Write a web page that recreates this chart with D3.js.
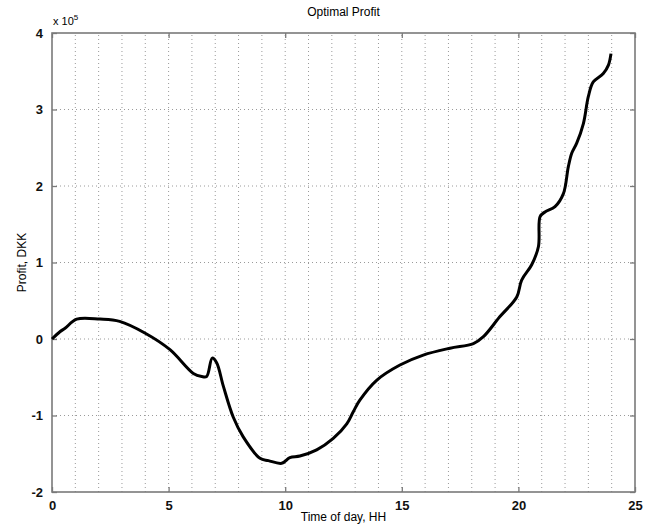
<!DOCTYPE html>
<html>
<head>
<meta charset="utf-8">
<script src="https://d3js.org/d3.v7.min.js"></script>
<style>
  body { margin: 0; background: #fff; }
  text { font-family: "Liberation Sans", Arial, sans-serif; }
</style>
</head>
<body>
<div id="grafico"></div>
<script>
// datos: hora del dia y beneficio en DKK
var horas = [0, 0.34, 0.56, 1.06, 2.06, 2.9, 4.0, 5.06, 6.06, 6.42, 6.63, 6.87, 7.06, 7.35, 7.77, 8.2, 8.92, 9.28, 9.85, 10.2, 10.63, 11.35, 12.06, 12.64, 12.92, 13.2, 13.92, 14.92, 15.92, 17.07, 18.07, 18.5, 19.2, 19.93, 20.14, 20.57, 20.86, 20.93, 21.14, 21.57, 21.93, 22.14, 22.29, 22.5, 22.79, 23.0, 23.21, 23.64, 23.86, 23.97];
var beneficio = [0, 9500, 14000, 26000, 26000, 23000, 7500, -14000, -45000, -49000, -49000, -25000, -31000, -62000, -102000, -128000, -156000, -159000, -162500, -155000, -153000, -145000, -130000, -111000, -95000, -80000, -54000, -34000, -21000, -12000, -6000, 3000, 29000, 55000, 77000, 97000, 121000, 160000, 166000, 173000, 190000, 225000, 243000, 256000, 282000, 317000, 336000, 347000, 358000, 373000];

var xTicks = [0, 5, 10, 15, 20, 25];
var yTicks = [-200000, -100000, 0, 100000, 200000, 300000, 400000];
var xGrid = d3.range(1, 25); // cada hora

var width = 650, height = 526;
var margin = { top: 33, right: 15, bottom: 34, left: 52 };

var svg = d3.select("#grafico").append("svg")
    .attr("width", width)
    .attr("height", height);

var x = d3.scaleLinear().domain([0, 25]).range([margin.left, width - margin.right]);
var y = d3.scaleLinear().domain([-200000, 400000]).range([height - margin.bottom, margin.top]);

// rejilla punteada
svg.append("g").selectAll("line")
    .data(xGrid)
    .enter().append("line")
    .attr("x1", d => x(d)).attr("x2", d => x(d))
    .attr("y1", y(-200000)).attr("y2", y(400000))
    .attr("stroke", "#9a9a9a")
    .attr("stroke-width", 1)
    .attr("stroke-dasharray", "1,3");

svg.append("g").selectAll("line")
    .data(yTicks.slice(1, -1))
    .enter().append("line")
    .attr("x1", x(0)).attr("x2", x(25))
    .attr("y1", d => y(d)).attr("y2", d => y(d))
    .attr("stroke", "#9a9a9a")
    .attr("stroke-width", 1)
    .attr("stroke-dasharray", "1,3");

// ejes con marcas hacia dentro (estilo MATLAB)
var colorEje = "#7a7a7a";
function estiloEje(g) {
    g.select(".domain").remove();
    g.selectAll(".tick line").attr("stroke", colorEje).attr("stroke-width", 1.3);
    g.selectAll(".tick text").attr("fill", "#111").style("font-size", "13px").style("font-weight", "bold");
}

svg.append("g")
    .attr("transform", "translate(0," + y(-200000) + ")")
    .call(d3.axisBottom(x).tickValues(xTicks).tickSizeInner(-5).tickSizeOuter(0).tickPadding(9))
    .call(estiloEje);

svg.append("g")
    .attr("transform", "translate(0," + y(400000) + ")")
    .call(d3.axisTop(x).tickValues(xTicks).tickSizeInner(-5).tickSizeOuter(0).tickFormat(""))
    .call(estiloEje);

svg.append("g")
    .attr("transform", "translate(" + x(0) + ",0)")
    .call(d3.axisLeft(y).tickValues(yTicks).tickSizeInner(-5).tickSizeOuter(0).tickPadding(9).tickFormat(d => d / 100000))
    .call(estiloEje);

svg.append("g")
    .attr("transform", "translate(" + x(25) + ",0)")
    .call(d3.axisRight(y).tickValues(yTicks).tickSizeInner(-5).tickSizeOuter(0).tickFormat(""))
    .call(estiloEje);

// caja
svg.append("rect")
    .attr("x", x(0)).attr("y", y(400000))
    .attr("width", x(25) - x(0)).attr("height", y(-200000) - y(400000))
    .attr("fill", "none")
    .attr("stroke", colorEje)
    .attr("stroke-width", 1.6);

// curva de beneficio
var puntos = horas.map((h, i) => [h, beneficio[i]]);
var linea = d3.line()
    .x(d => x(d[0]))
    .y(d => y(d[1]))
    .curve(d3.curveCatmullRom.alpha(0.5));

svg.append("path")
    .datum(puntos)
    .attr("fill", "none")
    .attr("stroke", "#000")
    .attr("stroke-width", 3)
    .attr("stroke-linejoin", "round")
    .attr("d", linea);

// textos
svg.append("text")
    .attr("x", (x(0) + x(25)) / 2).attr("y", 16)
    .attr("text-anchor", "middle")
    .style("font-size", "12px")
    .text("Optimal Profit");

var exp = svg.append("text")
    .attr("x", x(0) + 1).attr("y", 25)
    .style("font-size", "11px")
    .text("x 10");
exp.append("tspan").attr("dy", -5).style("font-size", "8px").text("5");

svg.append("text")
    .attr("x", (x(0) + x(25)) / 2).attr("y", 521)
    .attr("text-anchor", "middle")
    .style("font-size", "12px")
    .text("Time of day, HH");

svg.append("text")
    .attr("transform", "translate(26," + (y(100000)) + ") rotate(-90)")
    .attr("text-anchor", "middle")
    .style("font-size", "12px")
    .text("Profit, DKK");
</script>
</body>
</html>
